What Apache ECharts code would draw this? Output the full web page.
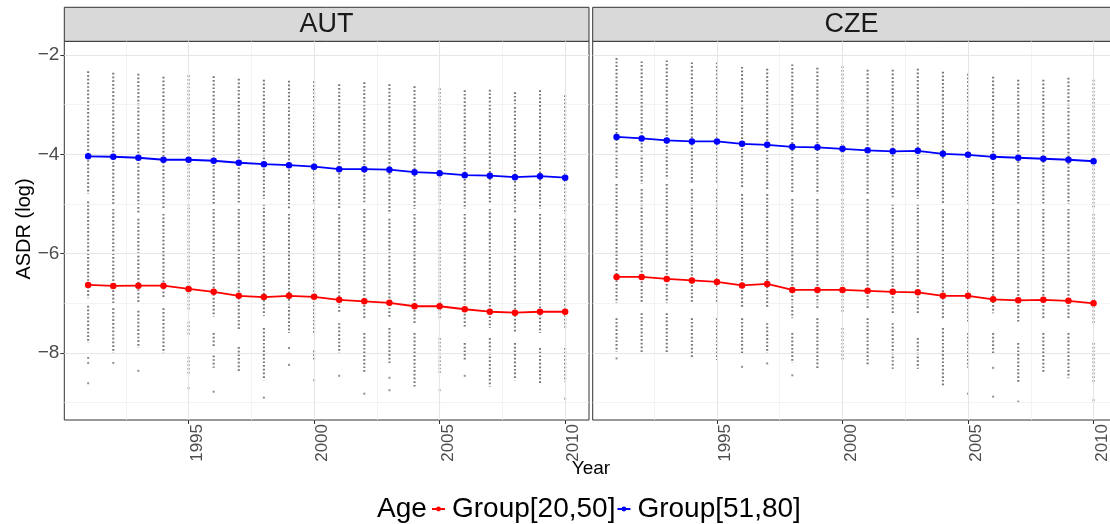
<!DOCTYPE html>
<html><head><meta charset="utf-8">
<script src="https://cdn.jsdelivr.net/npm/echarts@6/dist/echarts.min.js"></script>
<style>html,body{margin:0;padding:0;background:#fff}#c{width:1110px;height:524px}</style>
</head><body><div id="c"></div>
<script>
// ---------- data ----------
const years = [1991,1992,1993,1994,1995,1996,1997,1998,1999,2000,2001,2002,2003,2004,2005,2006,2007,2008,2009,2010];
const countries = ['AUT','CZE'];
const seriesNames = ['Group[20,50]','Group[51,80]'];

const autYoung = [-6.63,-6.65,-6.645,-6.645,-6.71,-6.77,-6.85,-6.875,-6.85,-6.87,-6.93,-6.96,-6.99,-7.06,-7.06,-7.12,-7.17,-7.19,-7.17,-7.17];
const autOld   = [-4.04,-4.05,-4.07,-4.11,-4.11,-4.13,-4.17,-4.20,-4.22,-4.25,-4.30,-4.30,-4.31,-4.36,-4.38,-4.42,-4.43,-4.46,-4.44,-4.47];
const czeYoung = [-6.47,-6.47,-6.51,-6.54,-6.57,-6.64,-6.61,-6.73,-6.73,-6.73,-6.75,-6.77,-6.78,-6.85,-6.85,-6.92,-6.94,-6.93,-6.95,-7.00];
const czeOld   = [-3.65,-3.68,-3.72,-3.74,-3.74,-3.79,-3.81,-3.85,-3.86,-3.89,-3.92,-3.94,-3.93,-3.99,-4.01,-4.05,-4.07,-4.09,-4.11,-4.14];

// gray background dots: dense runs [from,to] per year, and isolated dots per year
const autDotRuns = [
 [[-2.33,-4.8],[-4.95,-6.9],[-7.05,-7.8]],
 [[-2.36,-5.0],[-5.1,-7.0],[-7.1,-8.0]],
 [[-2.38,-5.2],[-5.3,-7.0],[-7.15,-7.9]],
 [[-2.44,-5.1],[-5.2,-6.9],[-7.1,-8.0]],
 [[-2.41,-4.9],[-5.0,-7.13],[-7.37,-7.67],[-8.08,-8.45]],
 [[-2.43,-5.0],[-5.1,-7.27],[-7.6,-7.9],[-8.05,-8.3]],
 [[-2.48,-5.0],[-5.1,-7.54],[-7.88,-8.38]],
 [[-2.5,-4.9],[-5.0,-7.25],[-7.5,-8.55]],
 [[-2.52,-5.1],[-5.2,-7.6]],
 [[-2.53,-5.0],[-5.1,-7.6],[-7.95,-8.15]],
 [[-2.59,-5.1],[-5.2,-7.2],[-7.4,-8.01]],
 [[-2.55,-5.0],[-5.1,-7.3],[-7.6,-8.41]],
 [[-2.59,-5.2],[-5.3,-7.3],[-7.5,-8.2]],
 [[-2.63,-5.1],[-5.2,-7.4],[-7.6,-8.68]],
 [[-2.67,-5.0],[-5.1,-7.3],[-7.7,-8.41]],
 [[-2.71,-5.1],[-5.2,-7.5],[-7.8,-8.14]],
 [[-2.70,-5.0],[-5.1,-7.5],[-7.7,-8.68]],
 [[-2.75,-5.2],[-5.3,-7.6],[-7.8,-8.55]],
 [[-2.71,-5.1],[-5.2,-7.6],[-7.9,-8.61]],
 [[-2.81,-5.2],[-5.3,-7.5],[-7.9,-8.58]]
];
const autDotSingles = [
 [-8.1,-8.2,-8.61],[-8.2],[-8.36],[],[-8.71],[-8.78],[],[-8.9],[-7.9,-8.24],[-8.55],
 [-8.46],[-8.82],[-8.5,-8.75],[],[-8.75],[-8.46],[],[],[],[-8.92]
];
const czeDotRuns = [
 [[-2.06,-4.5],[-4.6,-7.0],[-7.3,-7.98]],
 [[-2.13,-4.6],[-4.7,-7.0],[-7.2,-7.98]],
 [[-2.11,-4.5],[-4.6,-7.0],[-7.2,-8.01]],
 [[-2.15,-4.6],[-4.7,-7.0],[-7.3,-8.08]],
 [[-2.15,-4.6],[-4.7,-7.0],[-7.3,-8.14]],
 [[-2.24,-4.7],[-4.8,-7.1],[-7.3,-8.0]],
 [[-2.28,-4.7],[-4.8,-7.1],[-7.4,-8.0]],
 [[-2.19,-4.8],[-4.9,-7.3],[-7.6,-8.2]],
 [[-2.26,-4.8],[-4.9,-7.1],[-7.3,-8.31]],
 [[-2.23,-4.8],[-4.9,-7.2],[-7.5,-8.14]],
 [[-2.30,-4.8],[-4.9,-7.1],[-7.3,-8.24]],
 [[-2.30,-4.9],[-5.0,-7.2],[-7.4,-8.32]],
 [[-2.28,-4.9],[-5.0,-7.2],[-7.7,-8.32]],
 [[-2.34,-5.0],[-5.1,-7.3],[-7.5,-8.65]],
 [[-2.38,-5.0],[-5.1,-7.4],[-7.6,-8.3]],
 [[-2.44,-5.0],[-5.1,-7.2],[-7.6,-8.0]],
 [[-2.5,-5.0],[-5.1,-7.4],[-7.8,-8.6]],
 [[-2.5,-5.0],[-5.1,-7.3],[-7.6,-8.41]],
 [[-2.46,-5.0],[-5.1,-7.3],[-7.6,-8.51]],
 [[-2.5,-5.1],[-5.2,-7.4],[-7.8,-8.6]]
];
const czeDotSingles = [
 [-8.11],[],[],[],[],[-8.28],[-8.21],[-8.45],[],[],
 [],[],[],[],[-8.82],[-8.3,-8.88],[-8.98],[],[],[-8.95]
];

const xTicks = [1995,2000,2005,2010];
const xMinor = [1992.5,1997.5,2002.5,2007.5];
const yTicks = [-8,-6,-4,-2];
const yMinor = [-9,-7,-5,-3];

// ---------- chart ----------
const FONT = '"Liberation Sans", Arial, Helvetica, sans-serif';
const chart = echarts.init(document.getElementById('c'), null, {renderer:'canvas'});
const panelLeft = [64.3, 592.7], panelW = 524.7, panelTop = 41.3, panelH = 378.7;

const grids = [], xAxes = [], yAxes = [], series = [];
const lineData = [[autYoung, autOld],[czeYoung, czeOld]];
const runsAll = [autDotRuns, czeDotRuns];
const singlesAll = [autDotSingles, czeDotSingles];
const colors = ['#ff0000','#0000ff'];
const dotColor = '#767676';

for (let c = 0; c < 2; c++) {
  grids.push({left: panelLeft[c], width: panelW, top: panelTop, height: panelH,
    outerBoundsMode: 'none',
    show: true, backgroundColor: '#ffffff', borderColor: '#333333', borderWidth: 1, containLabel: false});
  xAxes.push({type:'value', gridIndex:c, min:1990.05, max:2010.95,
    axisLine:{show:false},
    axisTick:{show:true, inside:false, length:4, lineStyle:{color:'#333333', width:1}, customValues: xTicks},
    axisLabel:{show:true, rotate:90, fontSize:17, color:'#4d4d4d', fontFamily:FONT, margin:4, customValues: xTicks,
      verticalAlign:'top', align:'right', formatter: v => String(Math.round(v))},
    splitLine:{show:false}});
  yAxes.push({type:'value', gridIndex:c, min:-9.35, max:-1.725,
    axisLine:{show:false},
    axisTick:{show:c===0, inside:false, length:4, lineStyle:{color:'#333333', width:1}, customValues: yTicks},
    axisLabel:{show:c===0, fontSize:19, color:'#4d4d4d', fontFamily:FONT, margin:5, customValues: yTicks,
      formatter: v => (v < 0 ? '\u2212' : '') + Math.abs(v)},
    splitLine:{show:false}});

  // grid lines
  const ml = [];
  xMinor.forEach(v => ml.push({xAxis:v, lineStyle:{color:'#f0f0f0', width:0.8, type:'solid'}}));
  yMinor.forEach(v => ml.push({yAxis:v, lineStyle:{color:'#f0f0f0', width:0.8, type:'solid'}}));
  xTicks.forEach(v => ml.push({xAxis:v, lineStyle:{color:'#e6e6e6', width:1.1, type:'solid'}}));
  yTicks.forEach(v => ml.push({yAxis:v, lineStyle:{color:'#e6e6e6', width:1.1, type:'solid'}}));
  series.push({type:'line', xAxisIndex:c, yAxisIndex:c, data:[], silent:true, z:1,
    markLine:{silent:true, symbol:['none','none'], label:{show:false}, animation:false, data: ml}});

  // gray dot runs
  years.forEach((yr, i) => {
    runsAll[c][i].forEach(r => {
      series.push({type:'line', xAxisIndex:c, yAxisIndex:c, silent:true, z:2,
        symbol:'none', data:[[yr, r[0]],[yr, r[1]]],
        lineStyle:{color:dotColor, width:2.1, type:[1.7,2.0]}});
    });
  });
  const singles = [];
  years.forEach((yr, i) => singlesAll[c][i].forEach(v => singles.push([yr, v])));
  series.push({type:'scatter', xAxisIndex:c, yAxisIndex:c, silent:true, z:2,
    symbol:'rect', symbolSize:2, itemStyle:{color:dotColor}, data: singles});

  // group lines
  for (let g = 0; g < 2; g++) {
    series.push({type:'line', name: seriesNames[g], xAxisIndex:c, yAxisIndex:c, z:5,
      data: years.map((yr, i) => [yr, lineData[c][g][i]]),
      symbol:'circle', symbolSize:6.5, showSymbol:true,
      itemStyle:{color: colors[g]}, lineStyle:{color: colors[g], width:1.8}});
  }
}

const graphics = [];
for (let c = 0; c < 2; c++) {
  graphics.push({type:'rect', shape:{x:panelLeft[c], y:7.3, width:panelW, height:34},
    style:{fill:'#d9d9d9', stroke:'#333333', lineWidth:1}, silent:true});
}
graphics.push({type:'text', x:326.6, y:25, style:{text:countries[0], fontSize:27, fontFamily:FONT, fill:'#1a1a1a', textAlign:'center', textVerticalAlign:'middle'}});
graphics.push({type:'text', x:851.5, y:25, style:{text:countries[1], fontSize:27, fontFamily:FONT, fill:'#1a1a1a', textAlign:'center', textVerticalAlign:'middle'}});
graphics.push({type:'text', x:24, y:229, rotation:Math.PI/2, style:{text:'ASDR (log)', fontSize:20, fontFamily:FONT, fill:'#000', textAlign:'center', textVerticalAlign:'middle'}});
graphics.push({type:'text', x:591, y:469, style:{text:'Year', fontSize:19, fontFamily:FONT, fill:'#000', textAlign:'center', textVerticalAlign:'middle'}});
graphics.push({type:'text', x:377, y:509, style:{text:'Age', fontSize:28, fontFamily:FONT, fill:'#000', textAlign:'left', textVerticalAlign:'middle'}});

chart.setOption({
  animation:false,
  backgroundColor:'#ffffff',
  grid: grids, xAxis: xAxes, yAxis: yAxes, series: series,
  legend:{show:true, data: seriesNames, left:426, top:490, itemWidth:13, itemHeight:6, itemGap:1,
    textStyle:{fontSize:28, color:'#000', fontFamily:FONT, padding:[0,0,0,2]}},
  graphic: graphics
});
</script></body></html>
